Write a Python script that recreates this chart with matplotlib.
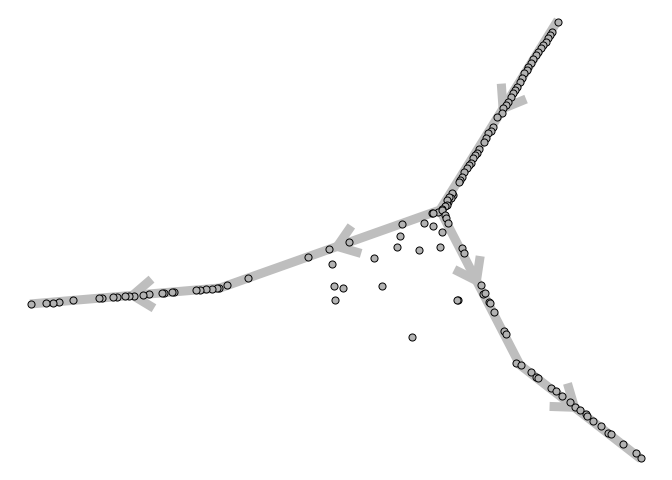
import numpy as np
import matplotlib
matplotlib.use("Agg")
import matplotlib.pyplot as plt

# trajectory milestones (screen-like coordinates, y grows downward)
milestone_x = [558, 440, 220, 30, 520, 641]
milestone_y = [20, 210, 288, 304, 365, 459]
# edges between milestones (from, to)
edges = [(0, 1), (1, 2), (2, 3), (1, 4), (4, 5)]

# cell positions
cell_x = [
    # start branch
    558, 552, 550, 548, 546, 543, 541, 538, 536, 533, 531, 528, 527, 524, 522,
    520, 517, 515, 513, 511, 508, 506, 503, 502, 497, 493, 491, 488, 486, 484,
    479, 477, 475, 473, 471, 469, 467, 464, 462, 460, 459, 453, 452, 451, 449,
    448, 447, 447, 445, 442, 438, 432,
    # hub / off-trajectory cells
    433, 442, 445, 446, 448, 424, 433, 442, 440, 402, 400, 397, 419, 374, 382,
    332, 334, 343, 335, 412, 458, 457,
    # left branch
    349, 329, 308, 248, 227, 219, 217, 212, 206, 200, 196, 174, 172, 164, 162,
    149, 143, 134, 129, 125, 117, 113, 102, 99, 73, 59, 53, 46, 31,
    # right branch
    462, 464, 481, 483, 485, 489, 490, 494, 504, 506, 516, 521, 531, 536, 538,
    551, 556, 562, 570, 575, 580, 586, 587, 593, 601, 608, 611, 623, 636, 641,
]
cell_y = [
    22, 32, 35, 38, 42, 45, 48, 52, 55, 59, 63, 67, 70, 73, 78,
    82, 87, 90, 93, 97, 102, 105, 108, 113, 117, 127, 131, 133, 138, 142,
    149, 153, 155, 158, 163, 165, 168, 172, 177, 180, 182, 195, 193, 198, 197,
    202, 200, 205, 206, 209, 212, 213,
    213, 210, 215, 218, 223, 223, 226, 232, 247, 224, 236, 247, 250, 258, 286,
    264, 286, 288, 300, 337, 300, 300,
    242, 249, 257, 278, 285, 288, 288, 289, 289, 290, 290, 292, 292, 293, 293,
    294, 295, 296, 296, 296, 297, 297, 298, 298, 300, 302, 303, 303, 304,
    248, 253, 285, 294, 293, 302, 303, 312, 331, 334, 363, 365, 372, 377, 378,
    388, 391, 396, 402, 407, 410, 414, 416, 421, 426, 433, 434, 444, 453, 458,
]

line_col = "#bebebe"
fig = plt.figure(figsize=(6.72, 4.8), dpi=100)
ax = fig.add_axes([0, 0, 1, 1])

# trajectory as two polylines through the hub
ax.plot(milestone_x[:4], milestone_y[:4], color=line_col, lw=6.5,
        solid_joinstyle="miter", solid_capstyle="butt", zorder=1)
ax.plot([milestone_x[1], milestone_x[4], milestone_x[5]],
        [milestone_y[1], milestone_y[4], milestone_y[5]],
        color=line_col, lw=6.5, solid_joinstyle="miter",
        solid_capstyle="butt", zorder=1)

# open arrow head at the middle of every edge
for a, b in edges:
    x0, y0 = milestone_x[a], milestone_y[a]
    x1, y1 = milestone_x[b], milestone_y[b]
    mx, my = (x0 + x1) / 2, (y0 + y1) / 2
    d = np.array([x1 - x0, y1 - y0], float)
    d /= np.hypot(*d)
    ax.annotate("", xy=(mx, my), xytext=(mx - d[0] * 12, my - d[1] * 12),
                arrowprops=dict(arrowstyle="->,head_length=1.45,head_width=1.05",
                                color=line_col, lw=6.5, shrinkA=0, shrinkB=0,
                                capstyle="butt", joinstyle="miter"),
                zorder=1)

ax.scatter(cell_x, cell_y, s=26, c="#b3b3b3", edgecolors="black",
           linewidths=0.7, zorder=3)

ax.set_xlim(0, 672)
ax.set_ylim(480, 0)
ax.axis("off")
fig.savefig("out.png", dpi=100)
